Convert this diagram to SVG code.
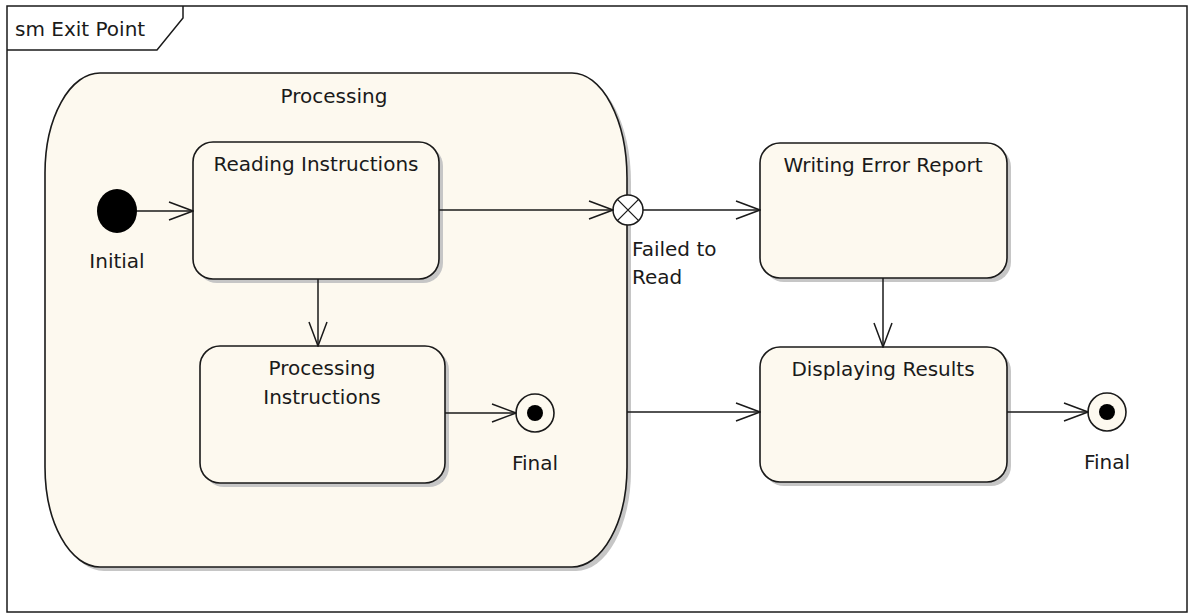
<svg xmlns="http://www.w3.org/2000/svg" width="1194" height="615" viewBox="0 0 1194 615">
  <defs>
    <style>
      .frame { fill: none; stroke: #1a1a1a; stroke-width: 1.5; }
      .state { fill: #fdf9ef; stroke: #1a1a1a; stroke-width: 1.6; }
      .shadow { fill: #c6c6c6; stroke: none; }
      .edge { fill: none; stroke: #1a1a1a; stroke-width: 1.5; }
      .label { font-family: "DejaVu Sans", Verdana, sans-serif; font-size: 20px; fill: #1a1a1a; }
      .mid { text-anchor: middle; }
    </style>
    <marker id="open" viewBox="0 0 26 20" refX="25" refY="10" markerWidth="26" markerHeight="20" markerUnits="userSpaceOnUse" orient="auto">
      <path d="M1,1 L25,10 L1,19" fill="none" stroke="#1a1a1a" stroke-width="1.5"/>
    </marker>
  </defs>

  <rect width="1194" height="615" fill="#ffffff"/>

  <!-- diagram frame with name tab -->
  <g id="frame">
    <rect class="frame" x="7" y="6" width="1180" height="606"/>
    <path class="frame" d="M7,50 H157 L183,18 V6"/>
    <text class="label" x="15" y="36">sm Exit Point</text>
  </g>

  <!-- composite state -->
  <g id="processing">
    <path class="shadow" d="M104,77 H576 A55,105 0 0 1 631,182 V471 A55,100 0 0 1 576,571 H104 A55,100 0 0 1 49,471 V177 A55,100 0 0 1 104,77 Z"/>
    <path class="state" d="M100,73 H572 A55,105 0 0 1 627,178 V467 A55,100 0 0 1 572,567 H100 A55,100 0 0 1 45,467 V173 A55,100 0 0 1 100,73 Z"/>
    <text class="label mid" x="334" y="103">Processing</text>
  </g>

  <g id="initial">
    <ellipse cx="117" cy="211" rx="20" ry="22" fill="#000"/>
    <text class="label mid" x="117" y="268">Initial</text>
  </g>

  <g id="reading">
    <rect class="shadow" x="197" y="146" width="246" height="137" rx="20"/>
    <rect class="state" x="193" y="142" width="246" height="137" rx="20"/>
    <text class="label mid" x="316" y="171">Reading Instructions</text>
  </g>

  <g id="processingInstr">
    <rect class="shadow" x="204" y="350" width="245" height="137" rx="20"/>
    <rect class="state" x="200" y="346" width="245" height="137" rx="20"/>
    <text class="label mid" x="322" y="375">Processing</text>
    <text class="label mid" x="322" y="404">Instructions</text>
  </g>

  <g id="finalInner">
    <circle class="state" cx="535" cy="413" r="19"/>
    <circle cx="535" cy="413" r="8" fill="#000"/>
    <text class="label mid" x="535" y="470">Final</text>
  </g>

  <g id="exitPoint">
    <circle cx="628" cy="210" r="15" fill="#ffffff" stroke="#1a1a1a" stroke-width="1.5"/>
    <path d="M617.4,199.4 L638.6,220.6 M638.6,199.4 L617.4,220.6" stroke="#1a1a1a" stroke-width="1.3"/>
    <text class="label" x="632" y="256">Failed to</text>
    <text class="label" x="632" y="284">Read</text>
  </g>

  <g id="writing">
    <rect class="shadow" x="764" y="147" width="247" height="135" rx="20"/>
    <rect class="state" x="760" y="143" width="247" height="135" rx="20"/>
    <text class="label mid" x="883" y="172">Writing Error Report</text>
  </g>

  <g id="displaying">
    <rect class="shadow" x="764" y="351" width="247" height="135" rx="20"/>
    <rect class="state" x="760" y="347" width="247" height="135" rx="20"/>
    <text class="label mid" x="883" y="376">Displaying Results</text>
  </g>

  <g id="finalOuter">
    <circle class="state" cx="1107" cy="412" r="19"/>
    <circle cx="1107" cy="412" r="8" fill="#000"/>
    <text class="label mid" x="1107" y="469">Final</text>
  </g>

  <!-- transitions -->
  <g id="connectors">
    <path class="edge" d="M137,211 H193" marker-end="url(#open)"/>
    <path class="edge" d="M318,279 V346" marker-end="url(#open)"/>
    <path class="edge" d="M445,413 H516" marker-end="url(#open)"/>
    <path class="edge" d="M439,210 H613" marker-end="url(#open)"/>
    <path class="edge" d="M643,210 H760" marker-end="url(#open)"/>
    <path class="edge" d="M883,278 V347" marker-end="url(#open)"/>
    <path class="edge" d="M627,412 H760" marker-end="url(#open)"/>
    <path class="edge" d="M1007,412 H1088" marker-end="url(#open)"/>
  </g>
</svg>
